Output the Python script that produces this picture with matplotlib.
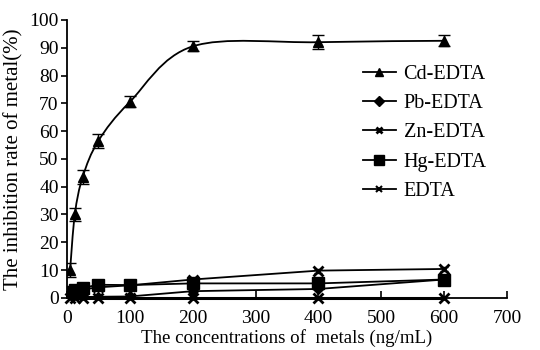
import numpy as np
import matplotlib
matplotlib.use("Agg")
import matplotlib.pyplot as plt
from matplotlib.path import Path
from matplotlib.patches import PathPatch
from matplotlib.lines import Line2D

plt.rcParams['font.family'] = ['Liberation Serif', 'DejaVu Serif']

conc = [5, 12.5, 25, 50, 100, 200, 400, 600]
cd_edta = [10, 30, 43.5, 56.5, 70.5, 90.5, 92, 92.5]
cd_err = [2.5, 2.5, 2.5, 2.5, 2, 1.8, 2.5, 2]
pb_edta = [0.3, 0.3, 0.3, 0.4, 0.5, 2.4, 3.2, 6.6]
zn_edta = [2.0, 2.5, 3.0, 3.8, 4.5, 6.6, 9.8, 10.4]
zn_err = [0.5, 0.5, 0.5, 0.5, 0.5, 0.7, 0.7, 0.7]
hg_edta = [2.0, 2.8, 3.6, 4.7, 4.6, 5.2, 5.2, 6.6]
edta = [0, 0, 0, 0, 0, 0, 0, 0]
labels = ['Cd-EDTA', 'Pb-EDTA', 'Zn-EDTA', 'Hg-EDTA', 'EDTA']
xticks = [0, 100, 200, 300, 400, 500, 600, 700]
yticks = [0, 10, 20, 30, 40, 50, 60, 70, 80, 90, 100]


def smooth_path(xs, ys, t=6.0):
    xs = np.asarray(xs, float)
    ys = np.asarray(ys, float)
    verts = [(xs[0], ys[0])]
    codes = [Path.MOVETO]
    n = len(xs)
    for i in range(n - 1):
        p0 = np.array([xs[max(i - 1, 0)], ys[max(i - 1, 0)]])
        p1 = np.array([xs[i], ys[i]])
        p2 = np.array([xs[i + 1], ys[i + 1]])
        p3 = np.array([xs[min(i + 2, n - 1)], ys[min(i + 2, n - 1)]])
        c1 = p1 + (p2 - p0) / t
        c2 = p2 - (p3 - p1) / t
        verts += [tuple(c1), tuple(c2), tuple(p2)]
        codes += [Path.CURVE4] * 3
    return Path(verts, codes)


fig = plt.figure(figsize=(5.4, 3.5), dpi=100)
ax = fig.add_axes([0.124, 0.149, 0.815, 0.794])

lw = 1.3
ax.add_patch(PathPatch(smooth_path(conc, cd_edta), fill=False, lw=lw, color='black'))
ax.plot(conc, cd_edta, ls='none', marker='^', ms=7, color='black')
ax.errorbar(conc, cd_edta, yerr=cd_err, fmt='none', ecolor='black', elinewidth=1.0, capsize=4)

ax.plot(conc, pb_edta, color='black', lw=lw, marker='D', ms=5)
ax.plot(conc, zn_edta, color='black', lw=lw, marker='x', ms=7, mew=2)
ax.errorbar(conc, zn_edta, yerr=zn_err, fmt='none', ecolor='black', elinewidth=1.0, capsize=3)
ax.plot(conc, hg_edta, color='black', lw=lw, marker='s', ms=8)
ax.plot(conc, edta, color='black', lw=2.2, marker='x', ms=7, mew=2, clip_on=False, zorder=5)

ax.set_xlim(0, 700)
ax.set_ylim(0, 100)
ax.set_xticks(xticks)
ax.set_yticks(yticks)
for s in ['top', 'right']:
    ax.spines[s].set_visible(False)
for s in ['left', 'bottom']:
    ax.spines[s].set_linewidth(1.3)
ax.tick_params(axis='x', direction='in', length=5, width=1.2, labelsize=14, pad=9)
ax.tick_params(axis='y', direction='out', length=4, width=1.2, labelsize=14, pad=2)
ax.set_xlabel('The concentrations of  metals (ng/mL)', fontsize=13.6, labelpad=1)
ax.set_ylabel('The inhibition rate of metal(%)', fontsize=15, labelpad=4)

handles = [
    Line2D([], [], color='black', lw=lw, marker='^', ms=6),
    Line2D([], [], color='black', lw=lw, marker='D', ms=5),
    Line2D([], [], color='black', lw=lw, marker='x', ms=5, mew=2),
    Line2D([], [], color='black', lw=lw, marker='s', ms=7),
    Line2D([], [], color='black', lw=lw, marker='x', ms=5, mew=1.5),
]
ax.legend(handles, labels, loc='upper left', bbox_to_anchor=(0.655, 0.867), frameon=False,
          fontsize=14.5, handlelength=1.6, handletextpad=0.4, labelspacing=0.5,
          borderaxespad=0)

fig.savefig('out.png', dpi=100)
